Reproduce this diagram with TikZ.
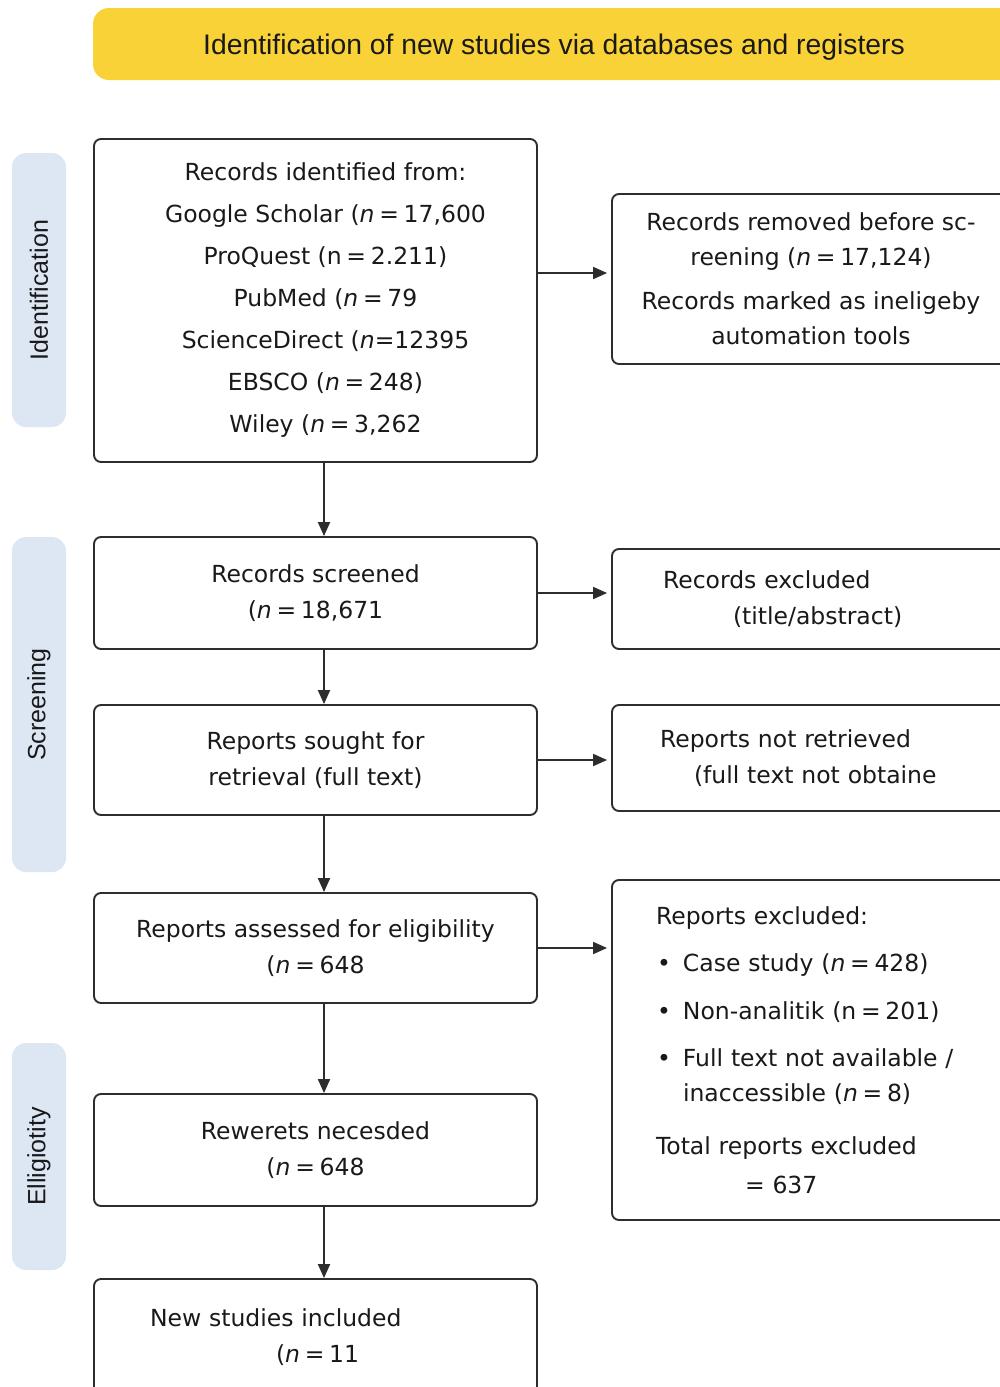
\documentclass[tikz,border=0pt]{standalone}
\usepackage{fontspec}
\setmainfont{DejaVu Sans}
\newfontfamily\hdrfont{Liberation Sans}
\usetikzlibrary{arrows.meta,calc}
\definecolor{hdr}{RGB}{249,210,55}
\definecolor{stagebg}{RGB}{221,231,243}
\definecolor{edge}{RGB}{45,45,45}
\definecolor{ink}{RGB}{25,25,25}
\newcommand{\eqs}{\hspace{0.2em}=\hspace{0.2em}}
\newcommand{\shr}{\hspace*{20pt}}
\begin{document}
\begin{tikzpicture}[x=1pt,y=-1pt,
  box/.style={draw=edge, line width=1.9pt, rounded corners=7pt, fill=white, text=ink,
    font=\fontsize{23.5}{36}\selectfont, align=center, inner sep=0pt},
  stage/.style={fill=stagebg, rounded corners=14pt, rotate=90, minimum height=54pt,
    text=ink, font=\hdrfont\fontsize{25}{30}\selectfont, inner sep=0pt},
  arr/.style={draw=edge, line width=1.9pt, -{Triangle[length=14pt,width=12pt]}}]
\useasboundingbox (0,0) rectangle (999,1387);
\fill[white] (0,0) rectangle (999,1387);

% header
\node[fill=hdr, rounded corners=16pt, minimum width=922pt, minimum height=72pt,
  text height=20pt, text depth=6pt,
  font=\hdrfont\fontsize{28.3}{32}\selectfont, text=ink, inner sep=0pt] (hdr) at (554,44)
  {\raisebox{-3pt}{Identification of new studies via databases and registers}};

% stage bars
\node[stage, minimum width=274pt] (s1) at (39,290) {Identification};
\node[stage, minimum width=335pt] (s2) at (39,704.5) {Screening};
\node[stage, minimum width=227pt] (s3) at (39,1156.5) {Elligiotity};

% main column
\node[box, minimum width=443pt, minimum height=323pt, font=\fontsize{23.5}{42}\selectfont] (b1) at (315.5,300.5)
  {\shr Records identified from:\\ \shr Google Scholar (\textit{n}\eqs 17,600\\ \shr ProQuest (n\eqs 2.211)\\ \shr PubMed (\textit{n}\eqs 79\\ \shr ScienceDirect (\textit{n}=12395\\ \shr EBSCO (\textit{n}\eqs 248)\\ \shr Wiley (\textit{n}\eqs 3,262};
\node[box, minimum width=443pt, minimum height=112pt] (b2) at (315.5,593)
  {Records screened\\ (\textit{n}\eqs 18,671};
\node[box, minimum width=443pt, minimum height=110pt] (b3) at (315.5,760)
  {Reports sought for\\ retrieval (full text)};
\node[box, minimum width=443pt, minimum height=110pt] (b4) at (315.5,948)
  {Reports assessed for eligibility\\ (\textit{n}\eqs 648};
\node[box, minimum width=443pt, minimum height=112pt] (b5) at (315.5,1150)
  {Rewerets necesded\\ (\textit{n}\eqs 648};
\node[box, minimum width=443pt, minimum height=116pt, align=left, text width=331pt] (b6) at (315.5,1337)
  {New studies included\\ \hspace*{126pt}(\textit{n}\eqs 11};

% right column
\node[box, minimum width=398pt, minimum height=170pt, font=\fontsize{23.5}{35}\selectfont] (r1) at (811,279)
  {Records removed before sc-\\ reening (\textit{n}\eqs 17,124)\\[9pt] Records marked as ineligeby\\ automation tools};
\node[box, minimum width=398pt, minimum height=100pt, align=left, text width=296pt] (r2) at (811,599)
  {Records excluded\\ \hspace*{70pt}(title/abstract)};
\node[box, minimum width=398pt, minimum height=106pt, align=left, text width=302pt] (r3) at (811,758)
  {Reports not retrieved\\ \hspace*{34pt}(full text not obtaine};
\node[box, minimum width=398pt, minimum height=340pt, align=left, text width=310pt,
  font=\fontsize{23.5}{35}\selectfont] (r4) at (811,1050)
  {Reports excluded:\\[12pt]
   \makebox[27pt][l]{\hspace{1pt}•}Case study (\textit{n}\eqs 428)\\[13pt]
   \makebox[27pt][l]{\hspace{1pt}•}Non-analitik (n\eqs 201)\\[12pt]
   \makebox[27pt][l]{\hspace{1pt}•}Full text not available /\\
   \hspace*{27pt}inaccessible (\textit{n}\eqs 8)\\[18pt]
   Total reports excluded\\[4pt]
   \hspace*{89pt}= 637};

% connectors
\coordinate (a1) at ([yshift=6pt]r1.west);
\draw[arr, shorten >=4pt] (b1.east |- a1) -- (a1);
\draw[arr, shorten >=4pt] (b2.east) -- (b2.east -| r2.west);
\draw[arr, shorten >=4pt] (b3.east) -- (b3.east -| r3.west);
\draw[arr, shorten >=4pt] (b4.east) -- (b4.east -| r4.west);

\draw[arr] ([xshift=8.5pt]b1.south) -- ([xshift=8.5pt]b2.north);
\draw[arr] ([xshift=8.5pt]b2.south) -- ([xshift=8.5pt]b3.north);
\draw[arr] ([xshift=8.5pt]b3.south) -- ([xshift=8.5pt]b4.north);
\draw[arr] ([xshift=8.5pt]b4.south) -- ([xshift=8.5pt]b5.north);
\draw[arr] ([xshift=8.5pt]b5.south) -- ([xshift=8.5pt]b6.north);
\end{tikzpicture}
\end{document}
